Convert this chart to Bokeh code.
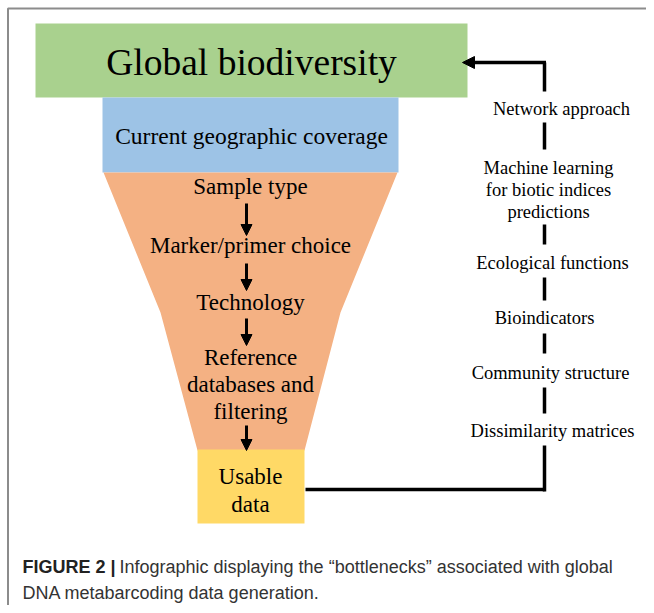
from bokeh.plotting import figure
from bokeh.models import Range1d, Arrow, NormalHead
from bokeh.core.properties import value
from bokeh.embed import file_html
from bokeh.resources import INLINE

# ---- content ----
title_label = "Global biodiversity"
coverage_label = "Current geographic coverage"
funnel_labels = ["Sample type", "Marker/primer choice", "Technology",
                 "Reference", "databases and", "filtering"]
funnel_label_y = [186, 245, 302, 357, 384, 411]
funnel_arrow_y0 = [203, 263, 318, 425]
funnel_arrow_y1 = [235, 290, 345, 450]
usable_labels = ["Usable", "data"]
usable_label_y = [476, 504]
right_labels = ["Network approach", "Machine learning", "for biotic indices",
                "predictions", "Ecological functions", "Bioindicators",
                "Community structure", "Dissimilarity matrices"]
right_label_x = [561, 548, 548, 548, 552, 544, 550, 552]
right_label_y = [108, 167, 189, 211, 262, 317, 372, 430]
right_seg_y0 = [62, 122, 224, 277, 333, 387, 445]
right_seg_y1 = [91, 149, 244, 300, 353, 413, 491]
caption_bold = "FIGURE 2 |"
caption_line1 = "Infographic displaying the \u201cbottlenecks\u201d associated with global"
caption_line2 = "DNA metabarcoding data generation."

GREEN, BLUE, ORANGE, YELLOW = "#a9d18e", "#9dc3e6", "#f4b183", "#ffd966"
SERIF = value("Liberation Serif")
SANS = value("Liberation Sans")

W, H = 646, 605
p = figure(width=W, height=H, output_backend="svg", toolbar_location=None,
           x_range=Range1d(0, W), y_range=Range1d(H, 0),
           min_border=0, outline_line_color=None)
p.axis.visible = False
p.grid.visible = False
p.background_fill_color = "white"

# frame
p.line([7.5, 7.5, 660], [620, 8, 8], line_color="#8c8c8c", line_width=2)

# boxes
p.quad(left=[35], right=[467], top=[23], bottom=[97], fill_color=GREEN, line_color=None)
p.quad(left=[102], right=[398], top=[97], bottom=[172], fill_color=BLUE, line_color=None)
p.patch([103, 397, 340, 304, 197, 160], [172, 172, 312, 450, 450, 312],
        fill_color=ORANGE, line_color=None)
p.quad(left=[197], right=[304], top=[449], bottom=[523], fill_color=YELLOW, line_color=None)

# main texts
p.text(x=[251], y=[62], text=[title_label], text_font=SERIF, text_font_size="37.5px",
       text_align="center", text_baseline="middle", text_color="black")
p.text(x=[251], y=[135], text=[coverage_label], text_font=SERIF, text_font_size="23.5px",
       text_align="center", text_baseline="middle", text_color="black")
p.text(x=[250] * len(funnel_labels), y=funnel_label_y, text=funnel_labels, text_font=SERIF,
       text_font_size="23px", text_align="center", text_baseline="middle", text_color="black")
p.text(x=[250] * len(usable_labels), y=usable_label_y, text=usable_labels, text_font=SERIF,
       text_font_size="23px", text_align="center", text_baseline="middle", text_color="black")

# funnel arrows
for y0, y1 in zip(funnel_arrow_y0, funnel_arrow_y1):
    p.add_layout(Arrow(x_start=246, y_start=y0, x_end=246, y_end=y1, line_width=3,
                       line_color="black",
                       end=NormalHead(size=11, fill_color="black", line_color="black", line_width=1)))

# right feedback path
p.multi_line(xs=[[544, 544] for _ in right_seg_y0],
             ys=[[a, b] for a, b in zip(right_seg_y0, right_seg_y1)],
             line_color="black", line_width=3.5)
p.line([305, 544], [489, 489], line_color="black", line_width=3.5)
p.add_layout(Arrow(x_start=545.5, y_start=62, x_end=462, y_end=62, line_width=3.5,
                   line_color="black",
                   end=NormalHead(size=12, fill_color="black", line_color="black", line_width=1)))
p.text(x=right_label_x, y=right_label_y, text=right_labels, text_font=SERIF,
       text_font_size="18.5px", text_align="center", text_baseline="middle", text_color="black")

# caption
p.text(x=[22], y=[566], text=[caption_bold], text_font=SANS, text_font_style="bold",
       text_font_size="18px", text_align="left", text_baseline="middle", text_color="#222222")
p.text(x=[119], y=[566], text=[caption_line1], text_font=SANS,
       text_font_size="18px", text_align="left", text_baseline="middle", text_color="#333333")
p.text(x=[22], y=[592], text=[caption_line2], text_font=SANS,
       text_font_size="18px", text_align="left", text_baseline="middle", text_color="#333333")

open("out.html", "w").write(file_html(p, INLINE))
